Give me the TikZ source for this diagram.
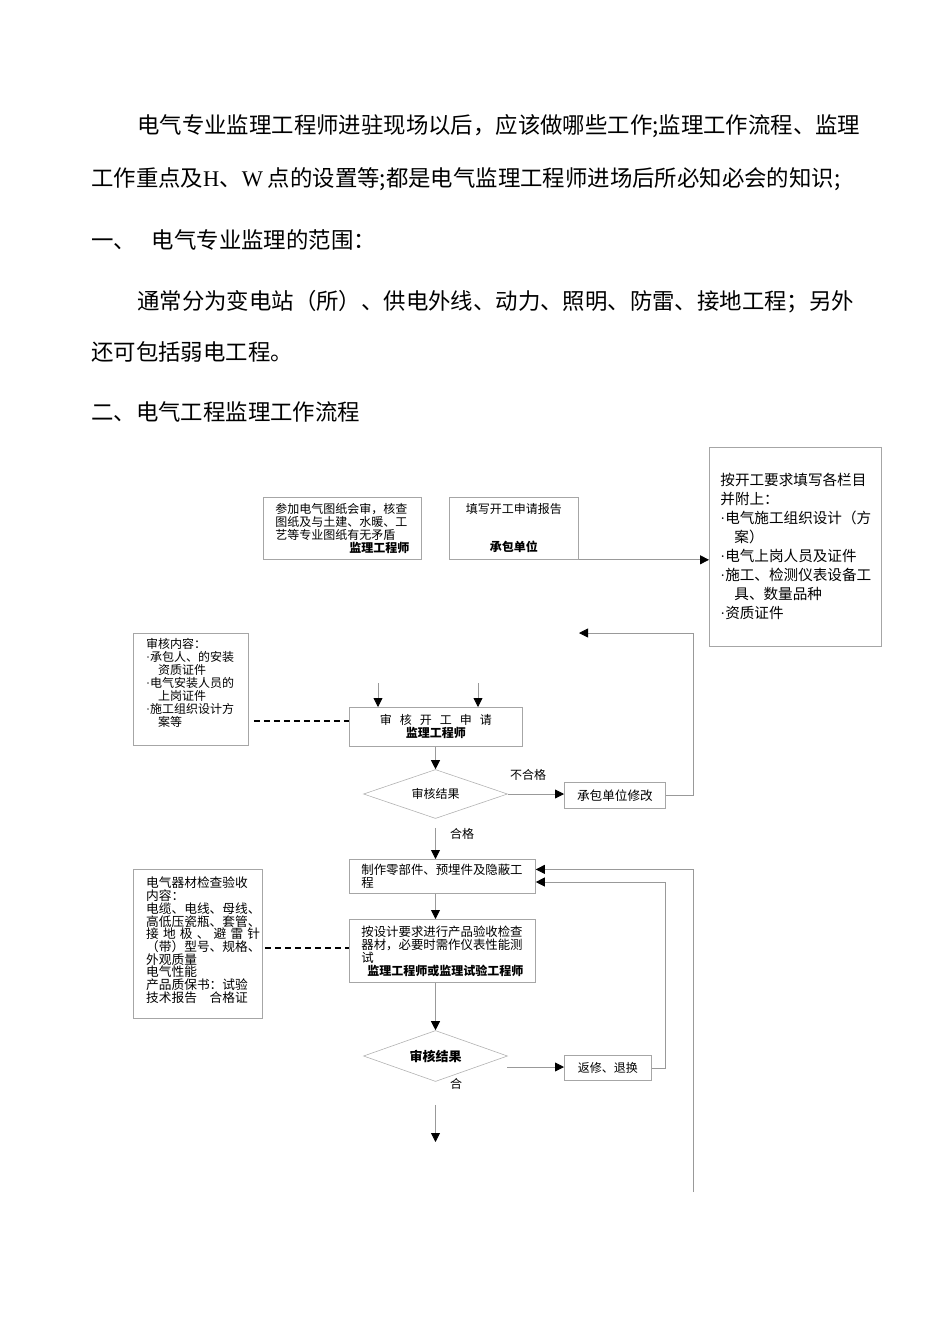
\documentclass[tikz,border=0pt]{standalone}
\usepackage{fontspec}
\setmainfont{Noto Sans CJK SC}
\newfontfamily\latinserif{Liberation Serif}
\newcommand{\bul}{{\latinserif ·}}
\usetikzlibrary{arrows.meta, shapes.geometric, positioning}

\begin{document}
\begin{tikzpicture}[x = 1pt, y = -1pt,
   box/.style = {draw = gray!70, line width = 0.8pt, inner sep = 0pt, anchor = north west},
   conn/.style = {draw = gray!80, line width = 0.8pt},
   arr/.style = {conn, -{Triangle[length = 9pt, width = 9pt, color = black, fill = black]}},
   dashlink/.style = {black, line width = 1.6pt, dash pattern = on 6pt off 4pt},
   body/.style = {anchor = west, inner sep = 0pt, font = \fontsize{22.4}{26}\selectfont},
   small/.style = {font = \fontsize{12}{13}\selectfont},
   lbl/.style = {inner sep = 0pt, font = \fontsize{12}{13}\selectfont}]
\useasboundingbox (0,0) rectangle (950,1344);

\node[body] (p1) at (137,126) {电气专业监理工程师进驻现场以后，应该做哪些工作;监理工作流程、监理};
\node[body] (p2) at (91,179) {工作重点及{\latinserif H}、{\latinserif W} 点的设置等;都是电气监理工程师进场后所必知必会的知识;};
\node[body] (p3) at (91,240) {一、\hspace{16pt}电气专业监理的范围：};
\node[body] (p4) at (137,302) {通常分为变电站（所）、供电外线、动力、照明、防雷、接地工程；另外};
\node[body] (p5) at (91,352) {还可包括弱电工程。};
\node[body] (p6) at (91,412) {二、电气工程监理工作流程};

% top row
\node[box, small, minimum width = 158pt, minimum height = 62pt, text width = 134pt, align = left] (review) at (263,497)
   {参加电气图纸会审，核查\\ 图纸及与土建、水暖、工\\ 艺等专业图纸有无矛盾\\ \hspace*{\fill}\textbf{监理工程师}\hspace*{\fill}};
\node[box, small, minimum width = 129pt, minimum height = 62pt, text width = 115pt, align = center] (apply) at (449,497)
   {填写开工申请报告\\[25pt] \textbf{承包单位}};
\node[box, font = \fontsize{14.6}{19}\selectfont, minimum width = 172pt, minimum height = 199pt, text width = 150pt, align = left] (attach) at (709,447)
   {按开工要求填写各栏目\\ 并附上：\\ \bul 电气施工组织设计（方\\ \hspace*{14pt}案）\\ \bul 电气上岗人员及证件\\ \bul 施工、检测仪表设备工\\ \hspace*{14pt}具、数量品种\\ \bul 资质证件};

% audit of the application
\node[box, minimum width = 115pt, minimum height = 112pt] (scope1) at (133,633) {};
\node[small, anchor = north west, inner sep = 0pt, align = left] (scope1txt) at (146,638)
   {审核内容：\\ \bul 承包人、的安装\\ \hspace*{12pt}资质证件\\ \bul 电气安装人员的\\ \hspace*{12pt}上岗证件\\ \bul 施工组织设计方\\ \hspace*{12pt}案等};
\node[box, small, minimum width = 173pt, minimum height = 39pt, align = center] (audit) at (349,707)
   {审\hspace{8pt}核\hspace{8pt}开\hspace{8pt}工\hspace{8pt}申\hspace{8pt}请\\ \textbf{监理工程师}};
\node[diamond, draw = gray!60, line width = 0.6pt, inner sep = 0pt, aspect = 3, minimum width = 144pt, minimum height = 49pt, small] (check1) at (435.5,794) {审核结果};
\node[box, minimum width = 101pt, minimum height = 26pt, font = \fontsize{12.6}{13}\selectfont] (mod) at (564,782) {承包单位修改};
\node[lbl] (fail) at (528,775) {不合格};
\node[lbl] (pass) at (462,834) {合格};

% materials
\node[box, minimum width = 186pt, minimum height = 34pt, text width = 162pt, align = left, font = \fontsize{12.4}{13}\selectfont] (make) at (349,859)
   {制作零部件、预埋件及隐蔽工\\ 程};
\node[box, minimum width = 186pt, minimum height = 63pt, text width = 162pt, align = left, font = \fontsize{12.4}{13}\selectfont] (inspect) at (349,919)
   {按设计要求进行产品验收检查\\ 器材，必要时需作仪表性能测\\ 试\\ \hspace*{\fill}{\fontsize{12}{13}\selectfont\bfseries 监理工程师或监理试验工程师}\hspace*{\fill}};
\node[box, minimum width = 129pt, minimum height = 149pt] (scope2) at (133,869) {};
\node[anchor = north west, inner sep = 0pt, align = left, font = \fontsize{12.7}{12.7}\selectfont] (scope2txt) at (146,877)
   {电气器材检查验收\\ 内容：\\ 电缆、电线、母线、\\ 高低压瓷瓶、套管、\\ \makebox[114pt][s]{接\hfil 地\hfil 极\hfil 、\hfil 避\hfil 雷\hfil 针}\\ （带）型号、规格、\\ 外观质量\\ 电气性能\\ 产品质保书：试验\\ 技术报告　合格证};
\node[diamond, draw = gray!60, line width = 0.6pt, inner sep = 0pt, aspect = 3, minimum width = 144pt, minimum height = 51pt, font = \fontsize{13}{13}\selectfont\bfseries] (check2) at (435.5,1056) {审核结果};
\node[box, minimum width = 87pt, minimum height = 25pt, small] (repair) at (564,1055) {返修、退换};
\node[lbl] (pass2) at (456,1084) {合};

\coordinate (in1) at (378,683);
\coordinate (in2) at (478,683);
\coordinate (back1) at (579,633);
\coordinate (rbus1) at (693,633);
\coordinate (rbus2) at (693,1192);
\coordinate (rbus3) at (665,882);
\coordinate (out2) at (507,1067);
\coordinate (down2) at (435.5,1142);
\coordinate (dash1) at ([yshift = 6pt]audit.west);
\coordinate (dash2) at ([yshift = 3pt]inspect.west);

\draw[arr] (apply.south east) -- (apply.south east -| attach.west);
\draw[arr] (mod.east) -| (rbus1) -- (back1);
\draw[arr] (in1) -- (in1 |- audit.north);
\draw[arr] (in2) -- (in2 |- audit.north);
\draw[dashlink, shorten <= 5pt] (dash1 -| scope1.east) -- (dash1);
\draw[arr] (audit.south -| check1.north) -- (check1.north);
\draw[arr] (check1.east) -- (check1.east -| mod.west);
\draw[arr, shorten <= 9pt] (check1.south) -- (check1.south |- make.north);
\draw[arr] (make.south -| check1.south) -- (inspect.north -| check1.south);
\draw[dashlink, shorten <= 2pt] (dash2 -| scope2.east) -- (dash2);
\draw[arr] (inspect.south -| check2.north) -- (check2.north);
\draw[arr] (rbus2) |- ([yshift = 7pt]make.east);
\draw[arr] (repair.east) -| (rbus3) -- (rbus3 -| make.east);
\draw[arr] (out2) -- (out2 -| repair.west);
\draw[arr, shorten <= 23pt] (check2.south) -- (down2);
\end{tikzpicture}
\end{document}
